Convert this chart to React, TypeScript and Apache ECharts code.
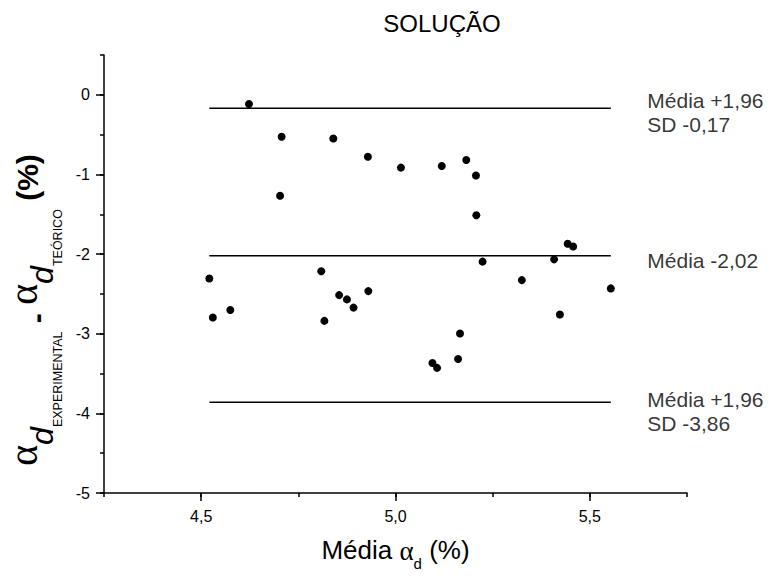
import React, { useEffect, useRef } from "react";
import * as echarts from "echarts";

// Bland-Altman data: mean (x) vs difference (y)
const meanX = [
  4.623, 4.707, 4.840, 4.929, 5.014, 4.703, 5.119, 5.182, 5.207, 5.208,
  5.443, 5.457, 5.224, 5.408, 4.521, 4.809, 4.530, 4.575, 4.817, 4.855,
  4.875, 4.892, 4.930, 5.325, 5.554, 5.423, 5.166, 5.161, 5.095, 5.107,
];
const diffY = [
  -0.116, -0.527, -0.549, -0.777, -0.914, -1.268, -0.894, -0.819, -1.014, -1.513,
  -1.870, -1.904, -2.095, -2.066, -2.307, -2.216, -2.797, -2.702, -2.839, -2.515,
  -2.569, -2.672, -2.465, -2.327, -2.431, -2.759, -2.997, -3.317, -3.367, -3.429,
];
const limitValues = [-0.17, -2.02, -3.86];
const limitLabels = ["Média +1,96\nSD -0,17", "Média -2,02", "Média +1,96\nSD -3,86"];
const xMajorTicks = [4.5, 5.0, 5.5];
const yMajorTicks = [-5, -4, -3, -2, -1, 0];
const titleText = "SOLUÇÃO";

// style-only offsets for the limit labels (pixels)
const limitLabelOffsets = [4, 5, 9];

const SANS = "'Liberation Sans', Arial, sans-serif";
const SERIF = "'Liberation Serif', 'Times New Roman', serif";

export default function App() {
  const ref = useRef<HTMLDivElement>(null);
  useEffect(() => {
    if (!ref.current) return;
    const chart = echarts.init(ref.current, undefined, { renderer: "svg" });
    const xMin = Math.min(...meanX);
    const xMax = Math.max(...meanX);
    const axisLine = { show: true, onZero: false, lineStyle: { color: "#000", width: 1.5 } };
    const noLine = { show: false, onZero: false };

    const lineSeries = limitValues.map((v) => ({
      type: "line",
      xAxisIndex: 0,
      yAxisIndex: 0,
      data: [[xMin, v], [xMax, v]],
      showSymbol: false,
      symbol: "none",
      silent: true,
      lineStyle: { color: "#000", width: 1.5 },
      z: 1,
    }));

    const labelSeries = {
      type: "scatter",
      xAxisIndex: 0,
      yAxisIndex: 0,
      symbolSize: 1,
      silent: true,
      itemStyle: { color: "rgba(0,0,0,0)" },
      data: limitValues.map((v, i) => ({
        value: [xMax, v],
        label: {
          show: true,
          position: "right",
          distance: 36,
          offset: [0, limitLabelOffsets[i]],
          formatter: limitLabels[i],
          color: "#000",
          fontSize: 21,
          lineHeight: 24,
          fontFamily: SANS,
          align: "left",
        },
      })),
    };

    const option: any = {
      animation: false,
      backgroundColor: "#fff",
      grid: { left: 104, top: 55, width: 583, height: 441, containLabel: false },
      xAxis: [
        {
          type: "value",
          min: 4.25,
          max: 5.75,
          interval: 0.25,
          position: "bottom",
          axisLine,
          axisTick: { show: true, length: 4, inside: false, lineStyle: { color: "#000", width: 1.5 } },
          axisLabel: { show: false },
          splitLine: { show: false },
          name: "{t|Média }{a|α}{s|d}{t| (%)}",
          nameLocation: "middle",
          nameGap: 44,
          nameTextStyle: {
            color: "#000",
            fontSize: 26,
            fontFamily: SANS,
            rich: {
              t: { fontSize: 26, fontFamily: SANS, color: "#000", verticalAlign: "top" },
              a: { fontSize: 27, fontFamily: SERIF, color: "#000", verticalAlign: "top" },
              s: { fontSize: 15, fontFamily: SANS, color: "#000", verticalAlign: "top", padding: [19, 0, 0, 0] },
            },
          },
        },
        {
          type: "value",
          min: 4.25,
          max: 5.75,
          interval: 0.25,
          position: "bottom",
          axisLine: noLine,
          axisTick: {
            show: true,
            length: 8,
            customValues: xMajorTicks,
            lineStyle: { color: "#000", width: 1.5 },
          },
          axisLabel: {
            show: true,
            customValues: xMajorTicks,
            margin: 15,
            color: "#000",
            fontSize: 16,
            fontFamily: SANS,
            formatter: (v: number) => v.toFixed(1).replace(".", ","),
          },
          splitLine: { show: false },
        },
      ],
      yAxis: [
        {
          type: "value",
          min: -5,
          max: 0.5,
          interval: 0.5,
          position: "left",
          axisLine,
          axisTick: { show: true, length: 4, lineStyle: { color: "#000", width: 1.5 } },
          axisLabel: { show: false },
          splitLine: { show: false },
        },
        {
          type: "value",
          min: -5,
          max: 0.5,
          interval: 0.5,
          position: "left",
          axisLine: noLine,
          axisTick: {
            show: true,
            length: 8,
            customValues: yMajorTicks,
            lineStyle: { color: "#000", width: 1.5 },
          },
          axisLabel: {
            show: true,
            customValues: yMajorTicks,
            margin: 14,
            color: "#000",
            fontSize: 16,
            fontFamily: SANS,
            formatter: (v: number) => String(v),
          },
          splitLine: { show: false },
        },
      ],
      graphic: [
        {
          type: "text",
          x: 442,
          y: 23,
          silent: true,
          style: {
            text: titleText,
            fill: "#000",
            fontSize: 24,
            fontFamily: SANS,
            align: "center",
            verticalAlign: "middle",
            textAlign: "center",
            textVerticalAlign: "middle",
          },
        },
        {
          type: "text",
          x: 0,
          y: 310,
          rotation: Math.PI / 2,
          silent: true,
          style: {
            text: "{a|α}{d|d}{s|EXPERIMENTAL}{m| - }{a|α}{d|d}{s|TEÓRICO}{p| (%)}",
            fill: "#000",
            fontSize: 20,
            fontFamily: SANS,
            align: "center",
            verticalAlign: "top",
            textAlign: "center",
            textVerticalAlign: "top",
            rich: {
              a: { fontSize: 40, fontFamily: SERIF, fill: "#000", verticalAlign: "top", padding: [3, 0, 0, 0] },
              d: { fontSize: 32, fontFamily: SANS, fontStyle: "italic", fill: "#000", verticalAlign: "top", padding: [26, 0, 0, 0] },
              s: { fontSize: 12.5, fontFamily: SANS, fill: "#000", verticalAlign: "top", padding: [51, 0, 0, 0] },
              m: { fontSize: 30, fontFamily: SANS, fontWeight: "bold", fill: "#000", verticalAlign: "top", padding: [21, 0, 0, 0] },
              p: { fontSize: 30, fontFamily: SANS, fontWeight: "bold", fill: "#000", verticalAlign: "top", padding: [12, 0, 0, 0] },
            },
          },
        },
      ],
      series: [
        ...lineSeries,
        {
          type: "scatter",
          xAxisIndex: 0,
          yAxisIndex: 0,
          symbol: "circle",
          symbolSize: 8,
          itemStyle: { color: "#000", opacity: 1 },
          data: meanX.map((x, i) => [x, diffY[i]]),
          z: 3,
        },
        labelSeries,
      ],
    };
    chart.setOption(option);
    return () => chart.dispose();
  }, []);
  return (
    <div
      ref={ref}
      style={{ position: "fixed", left: 0, top: 0, width: 771, height: 576, background: "#fff" }}
    />
  );
}
